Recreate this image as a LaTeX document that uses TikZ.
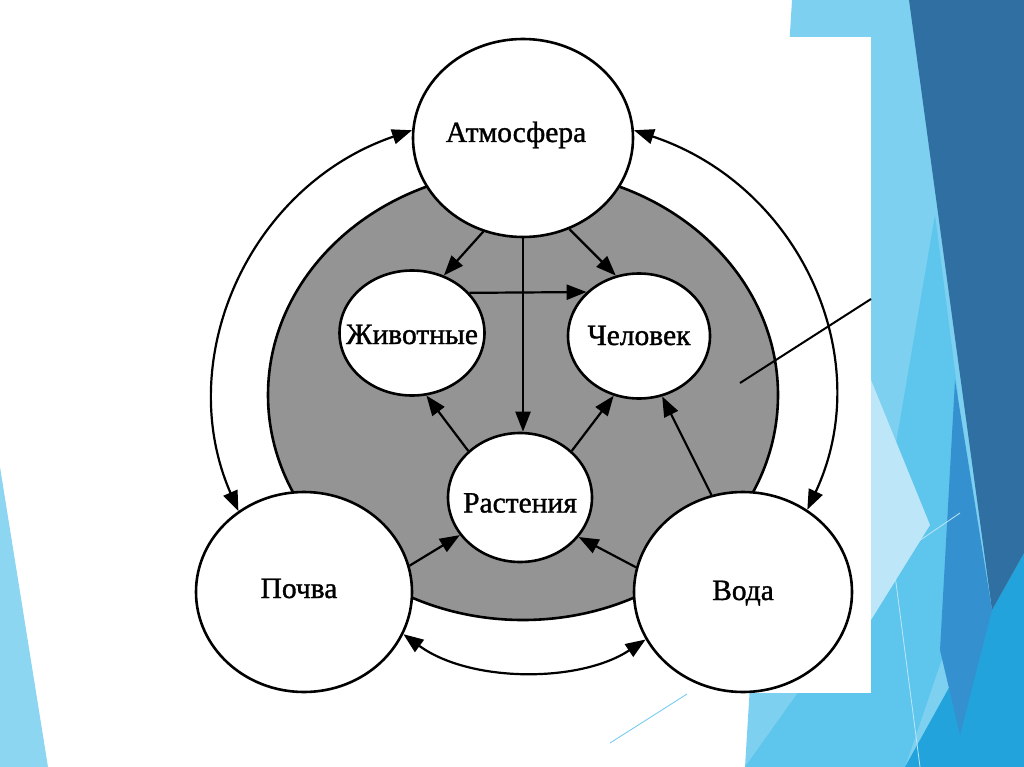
\documentclass[tikz,border=0pt]{standalone}
\usepackage{fontspec}
\setmainfont{Liberation Serif}
\newfontfamily\labelfont{Liberation Serif}[FakeBold=1.2]
\usetikzlibrary{shapes.geometric,arrows.meta,calc}
\definecolor{bglight}{HTML}{7DD0F0}
\definecolor{bgcyan}{HTML}{5EC5EC}
\definecolor{bgpale}{HTML}{BDE7F8}
\definecolor{bgbright}{HTML}{22A3DC}
\definecolor{bgmid}{HTML}{3590CF}
\definecolor{bgdark}{HTML}{2F6FA2}
\definecolor{bgleft}{HTML}{8DD6F2}
\definecolor{bgline}{HTML}{6CC9EE}
\definecolor{biogray}{RGB}{148,148,148}
\begin{document}
\begin{tikzpicture}[x=1pt,y=-1pt,
  sphere/.style={ellipse, draw=black, line width=2.6pt, fill=white, inner sep=0pt,
    font=\labelfont\fontsize{29.5}{34}\selectfont, text depth=0pt},
  arr/.style={line width=2.2pt, -{Triangle[length=20pt,width=15pt]}},
  darr/.style={line width=2.2pt, {Triangle[length=20pt,width=15pt]}-{Triangle[length=20pt,width=15pt]}},
  ptr/.style={line width=2pt}]
\useasboundingbox (0,0) rectangle (1024,767);
% slide background
\fill[white] (0,0) rectangle (1024,767);
\fill[bgleft] (0,467) -- (48,767) -- (0,767) -- cycle;
\fill[bglight] (792,0) -- (1024,0) -- (1024,767) -- (745,767) -- cycle;
\fill[bgcyan] (935,215) -- (958,395) -- (945,650) -- (905,767) -- (745,767) -- (871,590) -- cycle;
\fill[bgpale] (871,380) -- (930,525) -- (871,620) -- cycle;
\fill[bgbright] (992,610) -- (1024,553) -- (1024,767) -- (905,767) -- cycle;
\fill[bgmid] (955,380) -- (992,610) -- (960,735) -- (940,650) -- cycle;
\fill[bgdark] (909,0) -- (1024,0) -- (1024,553) -- (992,610) -- cycle;
\draw[bgpale, line width=0.8pt] (872,573) -- (960,513);
\draw[bgpale, line width=0.8pt] (880,460) -- (920,767);
\draw[bgline, line width=0.8pt] (687,694) -- (610,743);
% picture area
\fill[white] (60,37) rectangle (871,693);
% biosphere
\node[ellipse, draw=black, line width=2.6pt, fill=biogray, inner sep=0pt,
  minimum width=510pt, minimum height=450pt] (bio) at (523,395) {};
% spheres
\node[sphere, minimum width=220pt, minimum height=198pt, text height=8pt] (atm) at (523,138) {\makebox[0pt]{\hspace*{-14pt}Атмосфера}};
\node[sphere, minimum width=145pt, minimum height=125pt, text height=22pt] (anim) at (412,333) {\makebox[0pt]{Животные}};
\node[sphere, minimum width=142pt, minimum height=125pt, text height=18pt] (hum) at (639,336) {\makebox[0pt]{Человек}};
\node[sphere, minimum width=144pt, minimum height=129pt, text height=30pt] (rast) at (520,497.5) {\makebox[0pt]{Растения}};
\node[sphere, minimum width=216pt, minimum height=200pt, text height=12pt] (poch) at (304,592) {\makebox[0pt]{\hspace*{-10pt}Почва}};
\node[sphere, minimum width=218pt, minimum height=200pt, text height=16pt] (voda) at (743,592) {\makebox[0pt]{Вода}};
% inner arrows
\draw[arr] (atm.-113) -- (anim.61);
\draw[arr] (atm.-63) -- (hum.111);
\draw[arr] (atm.south) -- (atm.south |- rast.north);
\draw[arr] (anim.35.5) -- (hum.140);
\draw[arr] (rast.138) -- (anim.-77);
\draw[arr] (rast.42) -- (hum.-113);
\draw[arr] (voda.108.6) -- (hum.-69);
\draw[arr] (poch.14) -- (rast.212.5);
\draw[arr] (voda.167.5) -- (rast.-34);
% outer arcs
\draw[darr] (atm.176) .. controls (249,186) and (172,359) .. (poch.129);
\draw[darr] (atm.4) .. controls (801,186) and (878,359) .. (voda.52);
\draw[darr] (poch.-23) .. controls (470,683) and (580,683) .. (voda.206);
% pointer
\coordinate (ptrA) at (740,383);
\coordinate (ptrB) at (871,299);
\draw[ptr] (ptrA) -- (ptrB);
\end{tikzpicture}
\end{document}
